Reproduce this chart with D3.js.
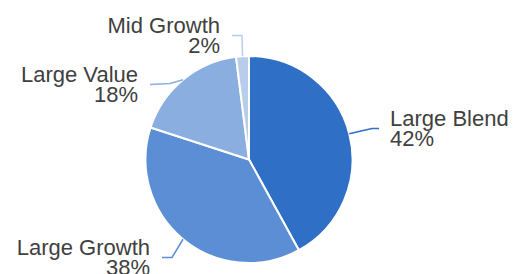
<!DOCTYPE html>
<html>
<head>
<meta charset="utf-8">
<script src="https://cdn.jsdelivr.net/npm/d3@7"></script>
<style>
  body { margin: 0; background: #fff; }
</style>
</head>
<body>
<div id="chart"></div>
<script>
// data
var categories = ["Large Blend", "Large Growth", "Large Value", "Mid Growth"];
var values = [42, 38, 18, 2];
var colors = ["#2f6fc6", "#5b8ed4", "#8aaee0", "#b7cdeb"];

// label layout: leader elbow and end (relative to pie centre), text side
var labelLayout = [
  {elbow: [123, -31], end: [130, -31], side: "start"},
  {elbow: [-77, 98], end: [-87, 98], side: "end"},
  {elbow: [-79, -76], end: [-99, -75], side: "end"},
  {elbow: [-7, -124], end: [-17, -124], side: "end"}
];

var width = 514, height = 274;
var cx = 249, cy = 159.5, radius = 103.5;

var svg = d3.select("#chart")
  .append("svg")
    .attr("width", width)
    .attr("height", height)
  .append("g")
    .attr("transform", "translate(" + cx + "," + cy + ")");

var rows = categories.map(function(c, i) { return {name: c, value: values[i], i: i}; });
var total = d3.sum(values);

var pie = d3.pie()
  .sort(null)
  .value(function(d) { return d.value; });

var arc = d3.arc()
  .innerRadius(0)
  .outerRadius(radius);

var arcs = pie(rows);

svg.selectAll("path.slice")
  .data(arcs)
  .enter()
  .append("path")
    .attr("class", "slice")
    .attr("d", arc)
    .attr("fill", function(d) { return colors[d.data.i]; })
    .attr("stroke", "#fff")
    .attr("stroke-width", 2);

// leader lines
svg.selectAll("polyline.leader")
  .data(arcs)
  .enter()
  .append("polyline")
    .attr("class", "leader")
    .attr("points", function(d) {
      var a = (d.startAngle + d.endAngle) / 2;
      var p0 = [Math.sin(a) * radius, -Math.cos(a) * radius];
      var l = labelLayout[d.data.i];
      return [p0, l.elbow, l.end].map(function(p) { return p.join(","); }).join(" ");
    })
    .attr("fill", "none")
    .attr("stroke", function(d) { return colors[d.data.i]; })
    .attr("stroke-width", 1.5);

var fmt = d3.format(".0%");

var labels = svg.selectAll("text.label")
  .data(arcs)
  .enter()
  .append("text")
    .attr("class", "label")
    .attr("font-family", "'Liberation Sans', Arial, sans-serif")
    .attr("font-size", "22px")
    .attr("fill", "#404040")
    .attr("text-anchor", function(d) { return labelLayout[d.data.i].side; })
    .attr("transform", function(d) {
      var l = labelLayout[d.data.i];
      var x = l.end[0] + (l.side === "start" ? 11 : -12);
      return "translate(" + x + "," + l.end[1] + ")";
    });

labels.append("tspan")
  .attr("x", 0)
  .attr("y", -3)
  .text(function(d) { return d.data.name; });

labels.append("tspan")
  .attr("x", 0)
  .attr("y", 17.5)
  .text(function(d) { return fmt(d.data.value / total); });
</script>
</body>
</html>
